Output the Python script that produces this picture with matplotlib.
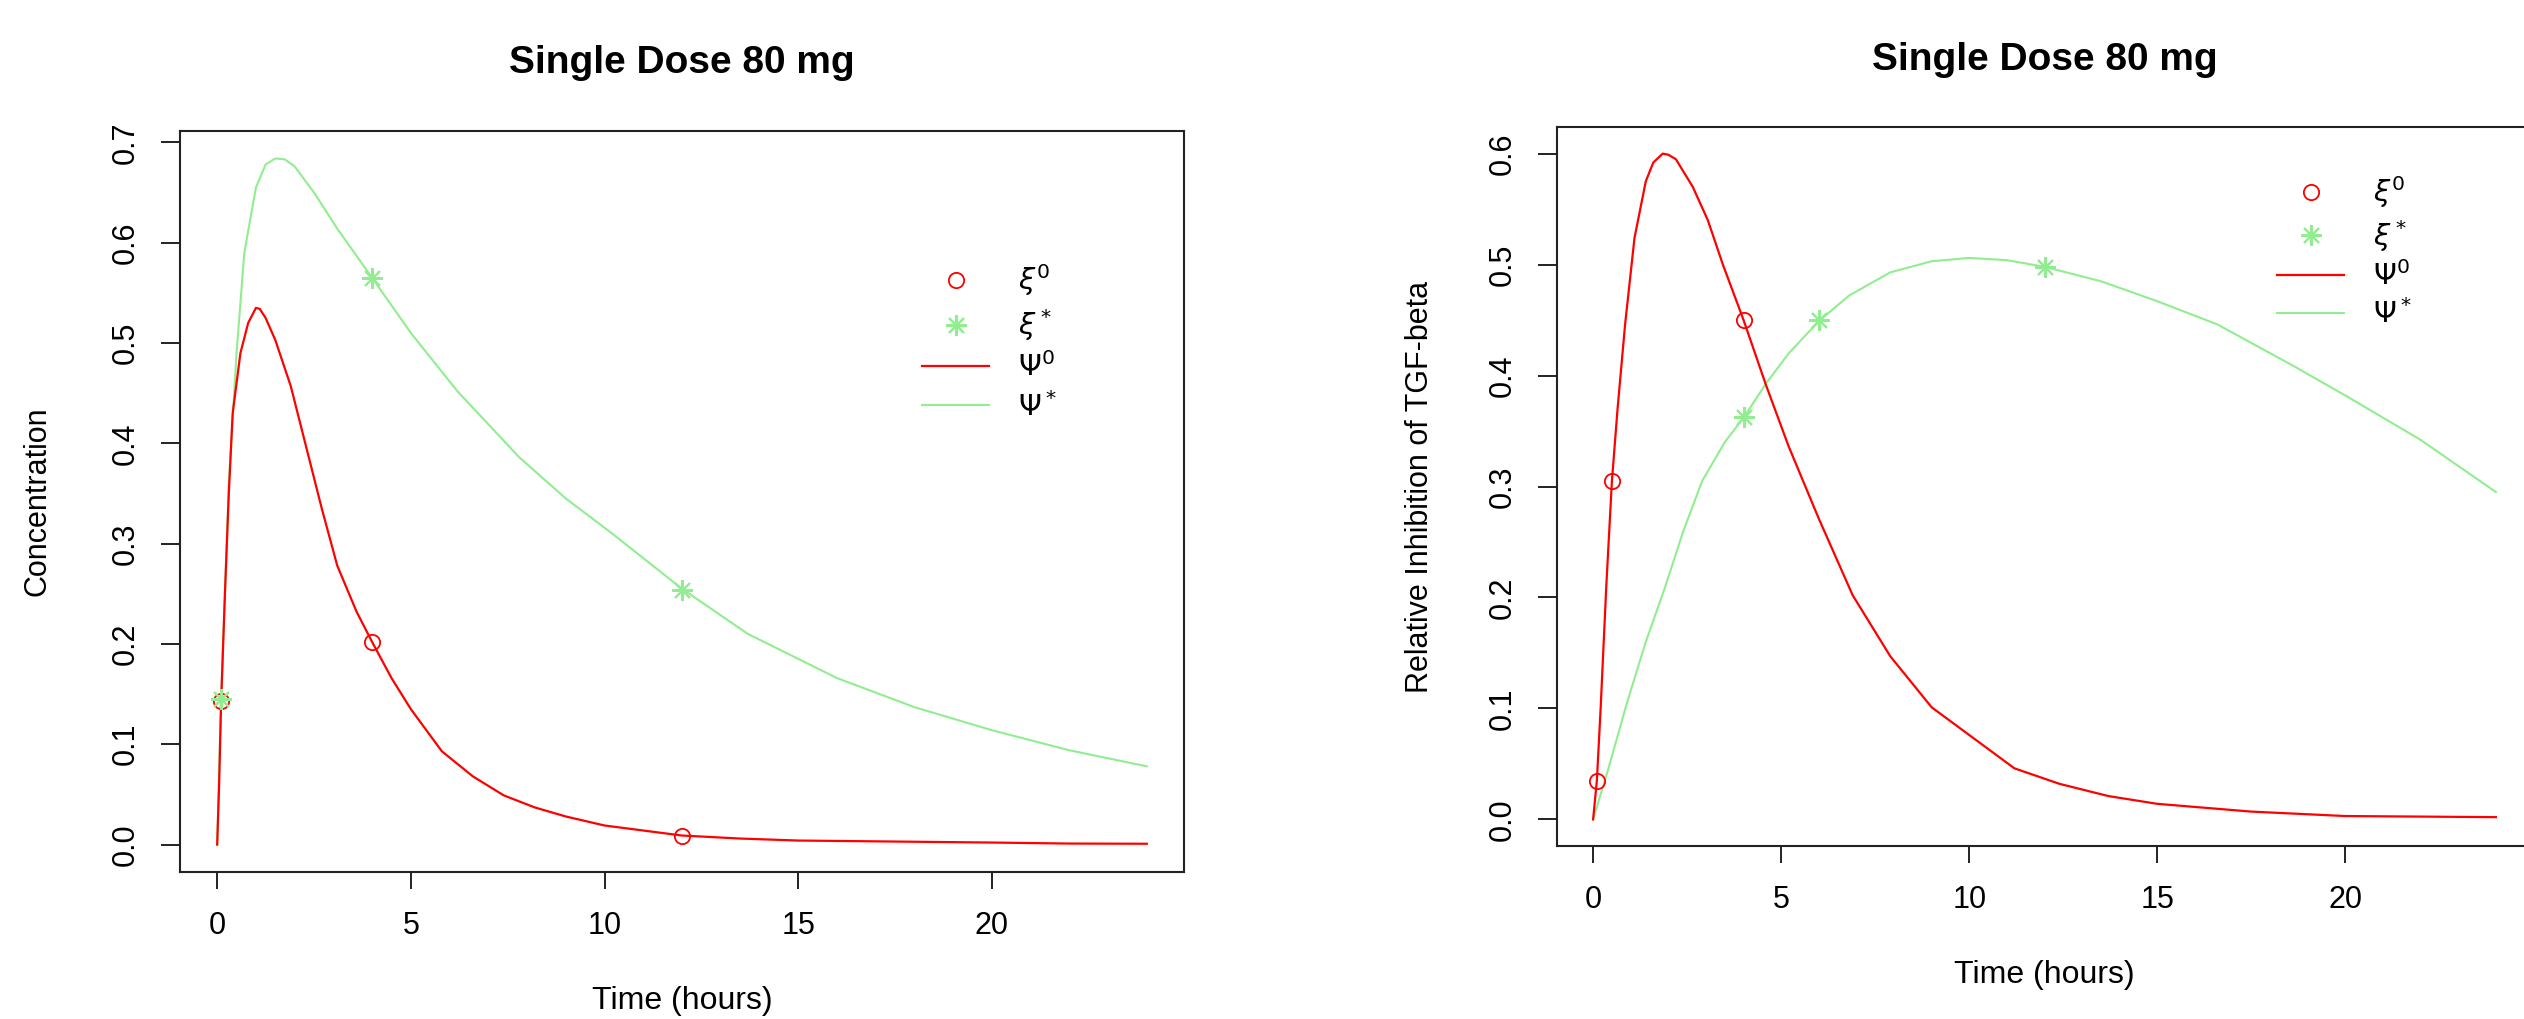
import numpy as np
import matplotlib
matplotlib.use("Agg")
import matplotlib.pyplot as plt
from matplotlib.lines import Line2D

plt.rcParams['font.family'] = ['Liberation Sans', 'DejaVu Sans']
plt.rcParams['mathtext.fontset'] = 'dejavusans'

# ---- left panel: concentration ----
t_conc_0 = [0, 0.05, 0.1, 0.2, 0.3, 0.4, 0.6, 0.8, 1.0, 1.1, 1.25, 1.5, 1.9, 2.3,
            2.7, 3.1, 3.6, 4.0, 4.5, 5.0, 5.8, 6.6, 7.4, 8.2, 9, 10, 11, 12, 13.5,
            15, 17.5, 20, 22, 24]
conc_0 = [0, 0.06, 0.14, 0.25, 0.35, 0.43, 0.49, 0.52, 0.535, 0.534, 0.525, 0.503,
          0.457, 0.396, 0.335, 0.278, 0.232, 0.202, 0.166, 0.135, 0.093, 0.068,
          0.049, 0.037, 0.028, 0.019, 0.014, 0.009, 0.006, 0.004, 0.003, 0.002,
          0.001, 0.0008]
t_conc_s = [0, 0.1, 0.2, 0.3, 0.5, 0.7, 1.0, 1.25, 1.5, 1.75, 2.0, 2.5, 3.1, 4.0,
            5.0, 6.2, 7.8, 9.0, 10.2, 12, 13.7, 16, 18, 20, 22, 24]
conc_s = [0, 0.145, 0.25, 0.36, 0.49, 0.59, 0.655, 0.678, 0.684, 0.683, 0.676,
          0.65, 0.614, 0.565, 0.51, 0.452, 0.386, 0.345, 0.31, 0.255, 0.21, 0.166,
          0.137, 0.114, 0.094, 0.078]
obs_conc_t0 = [0.1, 4, 12]
obs_conc_0 = [0.143, 0.202, 0.009]
obs_conc_ts = [0.1, 4, 12]
obs_conc_s = [0.145, 0.565, 0.254]

# ---- right panel: relative inhibition ----
t_inh_0 = [0, 0.1, 0.2, 0.35, 0.5, 0.65, 0.85, 1.1, 1.4, 1.6, 1.85, 2.0, 2.2, 2.65,
           3.05, 3.45, 4.0, 4.6, 5.2, 6.0, 6.9, 7.9, 9.0, 10, 11.2, 12.4, 13.7, 15,
           17.5, 20, 24]
inh_0 = [0, 0.035, 0.10, 0.21, 0.305, 0.37, 0.446, 0.524, 0.575, 0.592, 0.600,
         0.599, 0.595, 0.57, 0.54, 0.50, 0.45, 0.391, 0.336, 0.271, 0.202, 0.147,
         0.101, 0.076, 0.046, 0.032, 0.021, 0.014, 0.007, 0.003, 0.002]
t_inh_s = [0, 0.4, 0.9, 1.4, 1.9, 2.4, 2.9, 3.5, 4.0, 4.6, 5.2, 6.0, 6.8, 7.9,
           9.0, 10, 11, 12, 13.5, 15, 16.6, 18.6, 20, 22, 24]
inh_s = [0, 0.045, 0.105, 0.16, 0.208, 0.26, 0.305, 0.34, 0.362, 0.393, 0.42,
         0.449, 0.472, 0.493, 0.503, 0.506, 0.504, 0.498, 0.485, 0.467, 0.446,
         0.409, 0.382, 0.342, 0.295]
obs_inh_t0 = [0.1, 0.5, 4]
obs_inh_0 = [0.035, 0.305, 0.45]
obs_inh_ts = [4, 6, 12]
obs_inh_s = [0.363, 0.45, 0.498]

title = "Single Dose 80 mg"
xlabel = "Time (hours)"
labels = [r'$\xi^0$', r'$\xi^*$', r'$\Psi^0$', r'$\Psi^*$']
x_ticks = [0, 5, 10, 15, 20]

RED = '#FF0000'
GREEN = '#90EE90'
ASTER = (8, 2, 0)

W, H = 2524, 1019
fig = plt.figure(figsize=(W / 100, H / 100), dpi=100)


def fx(px):
    return px / W


def fy(py):
    return 1 - py / H


def panel(box, t0, y0, ts, ys, ot0, oy0, ots, oys, yticks, ylab, layout):
    left, top, right, bottom = box
    ax = fig.add_axes([fx(left), fy(bottom), fx(right - left), (bottom - top) / H])
    ax.plot(ts, ys, color=GREEN, lw=1.5)
    ax.plot(t0, y0, color=RED, lw=1.6)
    ax.plot(ot0, oy0, ls='none', marker='o', mfc='none', mec=RED, mew=1.3, ms=11)
    ax.plot(ots, oys, ls='none', marker=ASTER, color=GREEN, mew=1.5, ms=15)
    ymax = max(max(y0), max(ys))
    ax.set_xlim(-0.04 * 24, 24 * 1.04)
    ax.set_ylim(-0.04 * ymax, ymax * 1.04)
    ax.set_xticks(x_ticks)
    ax.set_xticklabels([str(v) for v in x_ticks])
    ax.set_yticks(yticks)
    ax.set_yticklabels([f"{v:.1f}" for v in yticks], rotation=90, va='center')
    ax.tick_params(axis='x', length=12, width=1.4, pad=layout['xpad'],
                   labelsize=22, color='#222222')
    ax.tick_params(axis='y', length=14, width=1.4, pad=layout['ypad'],
                   labelsize=22, color='#222222')
    for s in ax.spines.values():
        s.set_linewidth(1.5)
        s.set_color('#222222')
    cx = (left + right) / 2
    fig.text(fx(cx), fy(layout['title_y']), title, ha='center', va='baseline',
             fontsize=28, fontweight='bold')
    fig.text(fx(cx), fy(layout['xlab_y']), xlabel, ha='center', va='baseline',
             fontsize=23)
    fig.text(fx(layout['ylab_x']), fy((top + bottom) / 2), ylab, ha='center',
             va='center', rotation=90, fontsize=22)
    handles = [
        Line2D([], [], ls='none', marker='o', mfc='none', mec=RED, mew=1.3, ms=11),
        Line2D([], [], ls='none', marker=ASTER, color=GREEN, mew=1.5, ms=15),
        Line2D([], [], color=RED, lw=1.6),
        Line2D([], [], color=GREEN, lw=1.5),
    ]
    lx, ly = layout['leg']
    ax.legend(handles, labels, loc='upper left', bbox_to_anchor=(fx(lx), fy(ly)),
              bbox_transform=fig.transFigure, frameon=False, fontsize=21,
              borderpad=0, borderaxespad=0, handlelength=2.3, handletextpad=1.0,
              labelspacing=layout['lspace'])
    return ax


panel((180, 131, 1184, 872), t_conc_0, conc_0, t_conc_s, conc_s,
      obs_conc_t0, obs_conc_0, obs_conc_ts, obs_conc_s,
      [0.0, 0.1, 0.2, 0.3, 0.4, 0.5, 0.6, 0.7], "Concentration",
      dict(xpad=16, ypad=14, title_y=73, xlab_y=1009, ylab_x=38, leg=(922, 262),
           lspace=0.32))

panel((1557, 127, 2532, 846), t_inh_0, inh_0, t_inh_s, inh_s,
      obs_inh_t0, obs_inh_0, obs_inh_ts, obs_inh_s,
      [0.0, 0.1, 0.2, 0.3, 0.4, 0.5, 0.6], "Relative Inhibition of TGF-beta",
      dict(xpad=16, ypad=14, title_y=70, xlab_y=983, ylab_x=1420, leg=(2277, 174),
           lspace=0.27))

fig.savefig("out.png", dpi=100)
